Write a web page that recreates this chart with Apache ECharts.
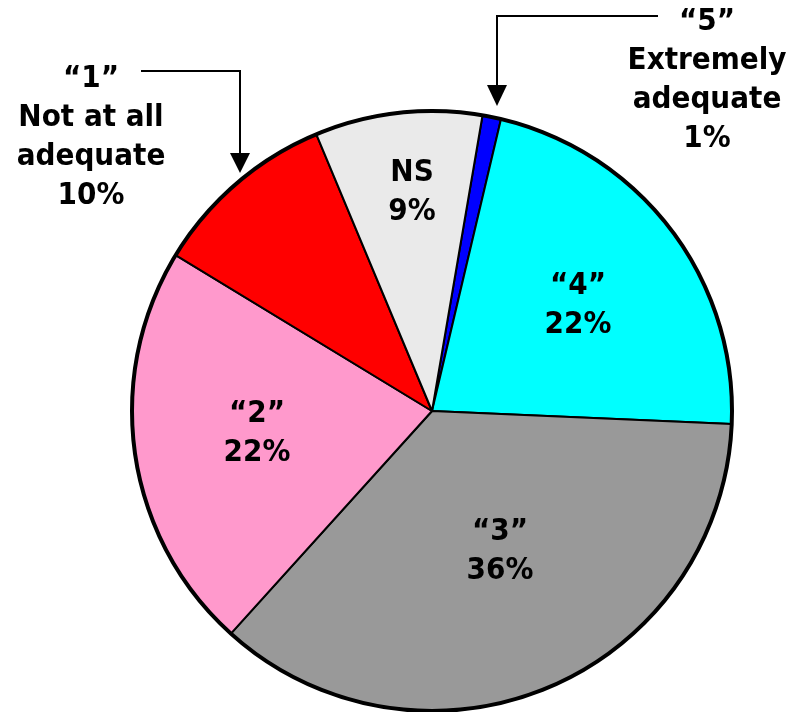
<!DOCTYPE html>
<html>
<head>
<meta charset="utf-8">
<script src="https://cdn.jsdelivr.net/npm/echarts@6/dist/echarts.min.js"></script>
<style>
  html, body { margin: 0; padding: 0; background: #ffffff; }
  #chart { width: 792px; height: 712px; }
</style>
</head>
<body>
<div id="chart"></div>
<script>
// Rating categories, clockwise from the top of the pie
const categories = ['\u201C5\u201D', '\u201C4\u201D', '\u201C3\u201D', '\u201C2\u201D', '\u201C1\u201D', 'NS'];
const descriptions = ['Extremely\nadequate', '', '', '', 'Not at all\nadequate', ''];
const values = [1, 22, 36, 22, 10, 9];
const colors = ['#0000FF', '#00FFFF', '#999999', '#FF99CC', '#FF0000', '#EAEAEA'];

// Label anchor points (text centre) for each slice
const labelSpots = {
  0: [707, 80],
  1: [578, 305],
  2: [500, 551],
  3: [257, 433],
  4: [91, 137],
  5: [412, 192]
};

const PIE_CENTER = [432, 411];
const PIE_RADIUS = 300;

const chart = echarts.init(document.getElementById('chart'), null, { renderer: 'canvas' });

const seriesData = categories.map((c, i) => ({
  name: c,
  value: values[i],
  itemStyle: { color: colors[i] }
}));

chart.setOption({
  animation: false,
  backgroundColor: '#ffffff',
  series: [
    {
      type: 'pie',
      center: PIE_CENTER,
      radius: PIE_RADIUS,
      startAngle: 80.3,
      clockwise: true,
      silent: true,
      data: seriesData,
      itemStyle: { borderColor: '#000000', borderWidth: 2 },
      label: {
        show: true,
        position: 'inside',
        color: '#000000',
        fontFamily: '"DejaVu Sans Condensed", "DejaVu Sans"',
        fontWeight: 'bold',
        fontSize: 31,
        lineHeight: 39,
        align: 'center',
        formatter: p => {
          const d = descriptions[p.dataIndex];
          return p.name + '\n' + (d ? d + '\n' : '') + p.value + '%';
        }
      },
      labelLine: { show: false },
      labelLayout: p => {
        const s = labelSpots[p.dataIndex];
        return { x: s[0], y: s[1], align: 'center', verticalAlign: 'middle' };
      }
    },
    // heavier outline round the whole pie
    {
      type: 'pie',
      center: PIE_CENTER,
      radius: PIE_RADIUS,
      silent: true,
      z: 3,
      data: [{ value: 1 }],
      itemStyle: { color: 'rgba(0,0,0,0)', borderColor: '#000000', borderWidth: 4 },
      label: { show: false },
      labelLine: { show: false }
    }
  ],
  graphic: [
    // leader for the "1" slice
    {
      type: 'polyline',
      shape: { points: [[141, 71], [240, 71], [240, 155]] },
      style: { stroke: '#000000', lineWidth: 2, fill: null }
    },
    {
      type: 'polygon',
      shape: { points: [[230, 153], [250, 153], [240, 173]] },
      style: { fill: '#000000' }
    },
    // leader for the "5" slice
    {
      type: 'polyline',
      shape: { points: [[658, 16], [497, 16], [497, 87]] },
      style: { stroke: '#000000', lineWidth: 2, fill: null }
    },
    {
      type: 'polygon',
      shape: { points: [[487, 85], [507, 85], [497, 106]] },
      style: { fill: '#000000' }
    }
  ]
});
</script>
</body>
</html>
